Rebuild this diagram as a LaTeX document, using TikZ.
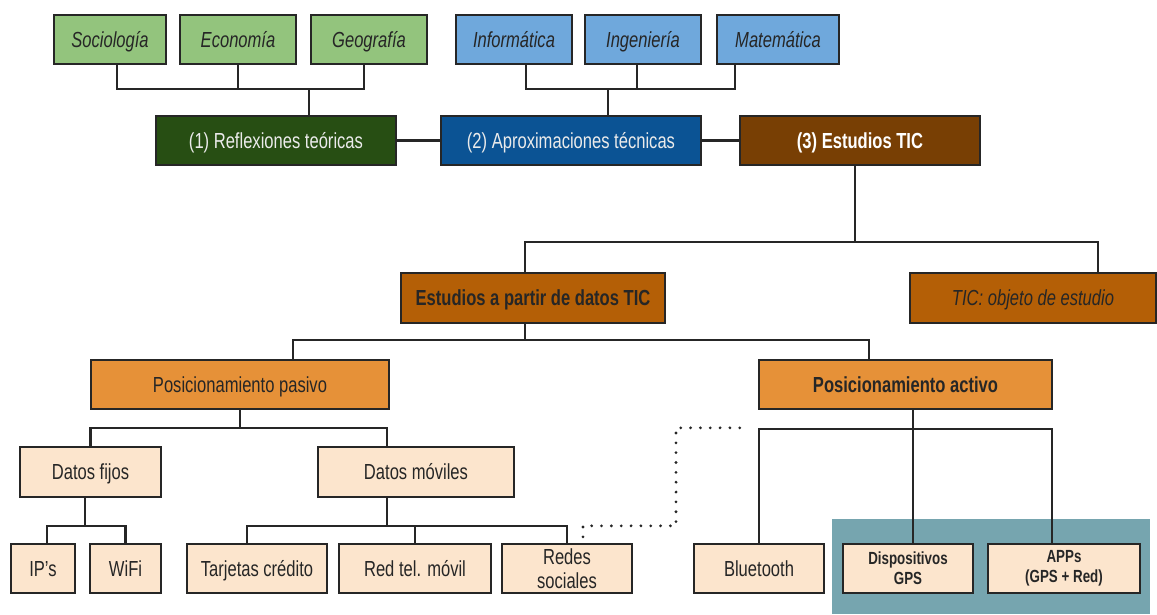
\documentclass[tikz,border=0pt]{standalone}
\usepackage{fontspec}
\setmainfont{Liberation Sans}[FakeStretch=0.76]
\usetikzlibrary{calc}
\definecolor{greenlt}{HTML}{93C47D}
\definecolor{greendk}{HTML}{274E13}
\definecolor{bluelt}{HTML}{6FA8DC}
\definecolor{bluedk}{HTML}{0B5394}
\definecolor{browndk}{HTML}{783F04}
\definecolor{brownmd}{HTML}{B45F06}
\definecolor{orangemd}{HTML}{E69138}
\definecolor{peach}{HTML}{FCE5CD}
\definecolor{tealbg}{HTML}{76A5AF}
\definecolor{linegrey}{HTML}{262626}
\newcommand{\boxfont}{\fontsize{15.5}{17}\selectfont}
\newcommand{\smallbold}{\fontsize{12.5}{14.5}\selectfont\bfseries}
\tikzstyle{frame} = [rectangle, draw=linegrey, line width=1.5pt, inner sep=0pt, minimum height=1.23cm, align=center, text=black!85, font=\boxfont]
\tikzstyle{box} = [frame, text height=2.3ex, text depth=0.25ex]
\tikzstyle{social} = [box, fill=greenlt, font=\boxfont\itshape]
\tikzstyle{technic} = [box, fill=bluelt, font=\boxfont\itshape]
\tikzstyle{branch1} = [box, fill=greendk, text=white!92!black]
\tikzstyle{branch2} = [box, fill=bluedk, text=white!92!black]
\tikzstyle{branch3} = [box, fill=browndk, text=white, font=\boxfont\bfseries]
\tikzstyle{study} = [box, fill=brownmd]
\tikzstyle{position} = [box, fill=orangemd]
\tikzstyle{source} = [box, fill=peach]
\tikzstyle{source2} = [frame, fill=peach]
\tikzstyle{line} = [line width=1.5pt, draw=linegrey]
\tikzstyle{dotline} = [line width=2.2pt, draw=linegrey, line cap=round, dash pattern=on 0pt off 7pt]

\begin{document}
\begin{tikzpicture}[x=0.025cm, y=-0.025cm]
	\useasboundingbox (0,0) rectangle (1157,614);
	\fill[tealbg] (832,519) rectangle (1150,614);
	%disciplines
	\node (socio) [social, minimum width=2.8cm] at (110,39.5) {Sociología};
	\node (econo) [social, minimum width=2.9cm] at (238,39.5) {Economía};
	\node (geo) [social, minimum width=2.9cm] at (369,39.5) {Geografía};
	\node (info) [technic, minimum width=2.9cm] at (514,39.5) {Informática};
	\node (inge) [technic, minimum width=2.9cm] at (643,39.5) {Ingeniería};
	\node (mate) [technic, minimum width=3.05cm] at (778,39.5) {Matemática};
	%approaches
	\node (refl) [branch1, minimum width=6cm] at (276,140.5) {(1) Reflexiones teóricas};
	\node (aprox) [branch2, minimum width=6.5cm] at (571,140.5) {(2) Aproximaciones técnicas};
	\node (tic3) [branch3, minimum width=6cm] at (860,140.5) {(3) Estudios TIC};
	\node (estud) [study, minimum width=6.6cm, font=\boxfont\bfseries] at (533,298) {Estudios a partir de datos TIC};
	\node (objeto) [study, minimum width=6.15cm, font=\boxfont\itshape] at (1033,298) {TIC: objeto de estudio};
	\node (pasivo) [position, minimum width=7.45cm] at (240,384.5) {Posicionamiento pasivo};
	\node (activo) [position, minimum width=7.33cm, font=\boxfont\bfseries] at (905.5,384.5) {Posicionamiento activo};
	\node (fijos) [source, minimum width=3.53cm] at (90.5,472) {Datos fijos};
	\node (moviles) [source, minimum width=4.9cm] at (416,472) {Datos móviles};
	%data sources
	\node (ips) [source, minimum width=1.6cm] at (43,568.5) {IP’s};
	\node (wifi) [source, minimum width=1.78cm] at (125.5,568.5) {WiFi};
	\node (tarj) [source, minimum width=3.5cm] at (257,568.5) {Tarjetas crédito};
	\node (redtel) [source, minimum width=3.8cm] at (415,568.5) {Red tel. móvil};
	\node (redes) [source2, minimum width=3.25cm] at (567,568.5) {Redes\\sociales};
	\node (blue) [source, minimum width=3.25cm] at (759,568.5) {Bluetooth};
	\node (gps) [source2, minimum width=3.25cm, font=\smallbold] at (908,568.5) {Dispositivos\\GPS};
	\node (apps) [source2, minimum width=3.8cm, font=\smallbold] at (1064,568.5) {APPs\\(GPS + Red)};
	%junctions
	\coordinate (jA) at (309,89);
	\coordinate (jB) at (608,89);
	\coordinate (jC) at (855,242);
	\coordinate (jD) at (525,340);
	\coordinate (jE) at (240,428);
	\coordinate (jF) at (85,526);
	\coordinate (jG) at (387,526);
	\coordinate (jH) at (913,429);
	%lines
	\draw [line] ($(socio.south)+(7,0)$) |- (jA);
	\draw [line] (econo) |- (jA);
	\draw [line] ($(geo.south)+(-5,0)$) |- (jA);
	\draw [line] (jA) -- (jA |- refl.north);
	\draw [line] ($(info.south)+(12,0)$) |- (jB);
	\draw [line] ($(inge.south)+(-6,0)$) |- (jB);
	\draw [line] ($(mate.south)+(-43,0)$) |- (jB);
	\draw [line] (jB) -- (jB |- aprox.north);
	\draw [line] (refl) -- (aprox);
	\draw [line] (aprox) -- (tic3);
	\draw [line] (jC |- tic3.south) -- (jC);
	\draw [line] ($(estud.north)+(-8,0)$) |- (jC);
	\draw [line] ($(objeto.north)+(65,0)$) |- (jC);
	\draw [line] (jD |- estud.south) -- (jD);
	\draw [line] ($(pasivo.north)+(53,0)$) |- (jD);
	\draw [line] ($(activo.north)+(-36.5,0)$) |- (jD);
	\draw [line] (pasivo.south) -- (jE);
	\draw [line] (fijos) |- (jE);
	\draw [line] ($(moviles.north)+(-29,0)$) |- (jE);
	\draw [line] (jF |- fijos.south) -- (jF);
	\draw [line] ($(ips.north)+(4,0)$) |- (jF);
	\draw [line] (wifi) |- (jF);
	\draw [line] (jG |- moviles.south) -- (jG);
	\draw [line] ($(tarj.north)+(-10,0)$) |- (jG);
	\draw [line] (redtel) |- (jG);
	\draw [line] (redes) |- (jG);
	\draw [line] (jH |- activo.south) -- (jH |- gps.north);
	\draw [line] (blue) |- (jH);
	\draw [line] ($(apps.north)+(-12,0)$) |- (jH);
	\draw [dotline] ($(redes.north)+(16,-6)$) -- ++(0,-11) -- ++(93,0) -- ++(0,-98) -- ++(72,0);
\end{tikzpicture}
\end{document}
